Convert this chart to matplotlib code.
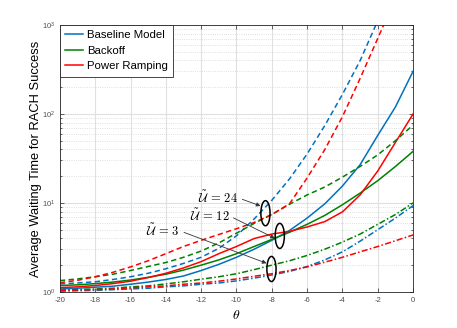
import numpy as np
import matplotlib
matplotlib.use('Agg')
import matplotlib.pyplot as plt
from matplotlib.patches import Ellipse
from matplotlib.lines import Line2D

plt.rcParams['font.family'] = ['Liberation Sans', 'DejaVu Sans']
plt.rcParams['mathtext.fontset'] = 'cm'

# ── data ──────────────────────────────────────────────────────────────────
theta = np.arange(-20, 1)

# U = 12 (solid)
base_12 = [1.08, 1.10, 1.13, 1.16, 1.22, 1.29, 1.38, 1.51, 1.74, 2.04, 2.45,
           3.02, 3.80, 4.90, 6.76, 9.77, 15.5, 26.9, 57.5, 120, 302]
back_12 = [1.18, 1.20, 1.24, 1.29, 1.36, 1.46, 1.58, 1.76, 2.00, 2.29, 2.69,
           3.24, 3.89, 4.68, 5.75, 7.24, 9.55, 12.9, 17.8, 25.7, 38.0]
ramp_12 = [1.12, 1.14, 1.18, 1.24, 1.32, 1.45, 1.62, 1.86, 2.19, 2.69, 3.24,
           3.98, 4.47, 4.79, 5.37, 6.17, 7.94, 12.3, 22.9, 47.9, 100]

# U = 24 (dashed)
base_24 = [1.23, 1.26, 1.30, 1.38, 1.48, 1.62, 1.82, 2.09, 2.45, 3.09, 4.27,
           6.61, 10.7, 18.6, 35.5, 74.1, 166, 398, 1120, 3160, 8910]
back_24 = [1.34, 1.40, 1.48, 1.58, 1.74, 1.93, 2.14, 2.45, 2.88, 3.55, 4.57,
           5.89, 7.41, 9.66, 12.3, 15.1, 19.5, 25.7, 34.7, 50.1, 75.0]
ramp_24 = [1.27, 1.35, 1.48, 1.66, 1.91, 2.24, 2.69, 3.24, 3.80, 4.42, 5.13,
           6.03, 7.41, 9.77, 19.1, 39.8, 93.3, 251, 708, 2000, 5620]

# U = 3 (dash-dot)
base_3 = [1.02, 1.03, 1.04, 1.06, 1.08, 1.10, 1.14, 1.17, 1.22, 1.26, 1.33,
          1.43, 1.55, 1.70, 1.93, 2.29, 2.82, 3.72, 5.01, 6.76, 9.33]
back_3 = [1.05, 1.06, 1.08, 1.10, 1.14, 1.17, 1.23, 1.30, 1.39, 1.48, 1.60,
          1.78, 2.00, 2.24, 2.57, 3.02, 3.63, 4.47, 5.75, 7.41, 10.0]
ramp_3 = [1.04, 1.05, 1.06, 1.08, 1.11, 1.14, 1.17, 1.22, 1.26, 1.32, 1.40,
          1.50, 1.60, 1.74, 1.91, 2.16, 2.45, 2.82, 3.24, 3.76, 4.37]

SCHEMES = ['Baseline Model', 'Backoff', 'Power Ramping']
COLORS = {'Baseline Model': '#0072BD', 'Backoff': '#008000', 'Power Ramping': '#FF0000'}

series = [
    ('Baseline Model', 12, base_12), ('Backoff', 12, back_12), ('Power Ramping', 12, ramp_12),
    ('Baseline Model', 24, base_24), ('Backoff', 24, back_24), ('Power Ramping', 24, ramp_24),
    ('Baseline Model', 3, base_3), ('Backoff', 3, back_3), ('Power Ramping', 3, ramp_3),
]
STYLES = {12: '-', 24: (0, (3.5, 2.2)), 3: (0, (4, 1.5, 1, 1.5))}

# annotations: (label, text pos, arrow head, ellipse centre) in data coords
ANNOT = [
    (r'$\tilde{\mathcal{U}}\,=\,24$', (-9.9, 11.4), (-8.64, 9.25), (-8.36, 7.66)),
    (r'$\tilde{\mathcal{U}}\,=\,12$', (-10.4, 7.14), (-7.83, 4.01), (-7.55, 4.26)),
    (r'$\tilde{\mathcal{U}}\,=\,3$', (-13.2, 4.85), (-8.30, 2.10), (-8.02, 1.81)),
]

# ── plot ──────────────────────────────────────────────────────────────────
fig = plt.figure(figsize=(4.57, 3.28), dpi=100)
ax = fig.add_axes([0.131, 0.110, 0.773, 0.814])

for scheme, u, vals in series:
    ax.plot(theta, vals, color=COLORS[scheme], ls=STYLES[u], lw=1.1)

ax.set_yscale('log')
ax.set_xlim(-20, 0)
ax.set_ylim(1, 1000)
ax.set_xticks(np.arange(-20, 1, 2))
ax.set_xticklabels([str(t) for t in np.arange(-20, 1, 2)])

ax.set_axisbelow(True)
ax.grid(True, which='major', color='#e0e0e0', lw=0.8, ls='-')
ax.grid(True, which='minor', axis='y', color='#d5d5d5', lw=0.6, ls=':')
ax.tick_params(which='both', direction='in', top=True, right=True,
               labelsize=5.5, labelcolor='#4d4d4d', color='#262626', width=0.5)
ax.tick_params(which='major', length=3)
ax.tick_params(which='minor', length=1.5)
for sp in ax.spines.values():
    sp.set_color('#262626')
    sp.set_linewidth(0.6)

ax.set_xlabel(r'$\theta$', fontsize=10, labelpad=3)
ax.set_ylabel('Average Waiting Time for RACH Success', fontsize=9.3)
ax.yaxis.set_label_coords(-0.05, 0.5)

for text, txy, head, centre in ANNOT:
    ax.annotate(text, xy=head, xytext=txy, fontsize=9, ha='right', va='center',
                arrowprops=dict(arrowstyle='-|>', color='#333333', lw=0.6,
                                mutation_scale=6, relpos=(1, 0.5), shrinkA=1, shrinkB=0))
    cx = (centre[0] + 20) / 20
    cy = np.log10(centre[1]) / 3
    ax.add_patch(Ellipse((cx, cy), 0.026, 0.094, transform=ax.transAxes,
                         fill=False, ec='black', lw=1.1, zorder=5))

handles = [Line2D([], [], color=COLORS[s], lw=1.1) for s in SCHEMES]
leg = ax.legend(handles, SCHEMES, loc='upper left', fontsize=8.2, frameon=True,
                fancybox=False, borderaxespad=0, handlelength=1.6,
                handletextpad=0.35, borderpad=0.45, labelspacing=0.5)
leg.get_frame().set_edgecolor('#262626')
leg.get_frame().set_linewidth(0.6)
leg.get_frame().set_alpha(1)

fig.savefig('out.png', dpi=100)
